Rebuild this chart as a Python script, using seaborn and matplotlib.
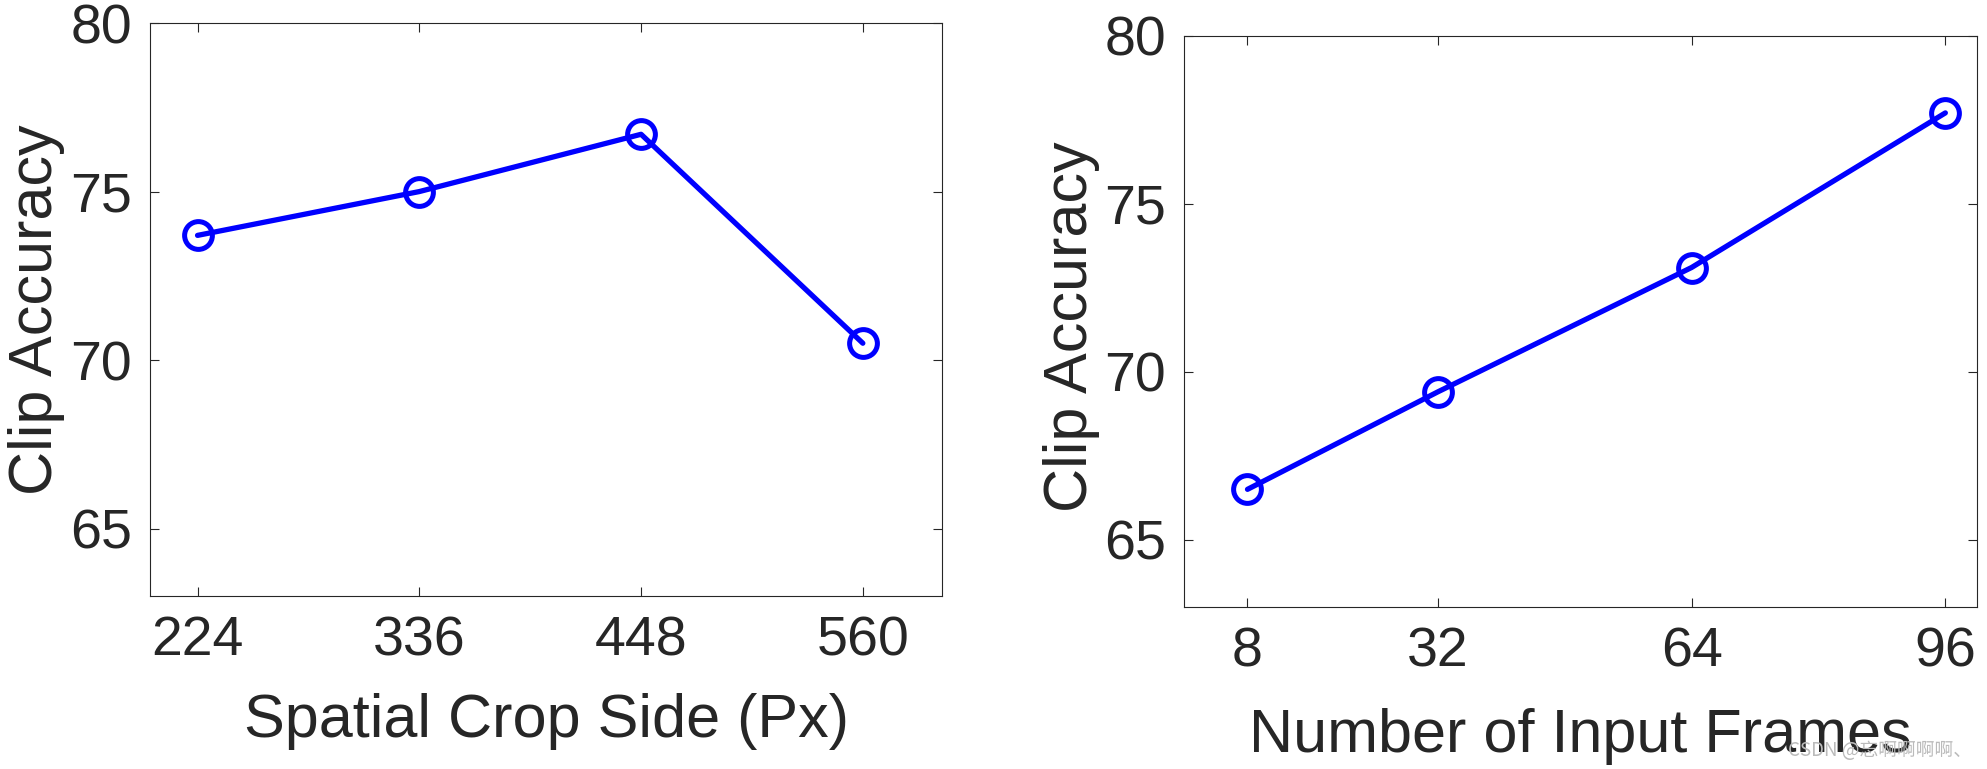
import matplotlib
matplotlib.use('Agg')
import matplotlib.pyplot as plt
import seaborn as sns
import pandas as pd

# values
crop_side = [224, 336, 448, 560]
crop_acc = [73.7, 75.0, 76.7, 70.5]

num_frames = [8, 32, 64, 96]
frames_acc = [66.5, 69.4, 73.1, 77.7]

sns.set_theme(style='white')
plt.rcParams['font.family'] = ['Liberation Sans', 'DejaVu Sans']

TXT = '#262626'

fig = plt.figure(figsize=(19.87, 7.69), dpi=100)
ax1 = fig.add_axes([0.0755, 0.225, 0.3986, 0.745])
ax2 = fig.add_axes([0.5959, 0.2107, 0.3991, 0.743])

df1 = pd.DataFrame({'x': crop_side, 'acc': crop_acc})
df2 = pd.DataFrame({'x': num_frames, 'acc': frames_acc})

line_kw = dict(color='blue', linewidth=3.8, marker='o', markersize=20,
               markerfacecolor='none', markeredgecolor='blue', markeredgewidth=3.6)

sns.lineplot(data=df1, x='x', y='acc', ax=ax1, **line_kw)
sns.lineplot(data=df2, x='x', y='acc', ax=ax2, **line_kw)

ax1.set_xlim(200, 600)
ax1.set_xticks(crop_side)
ax2.set_xlim(0, 100)
ax2.set_xticks(num_frames)

ax1.set_xlabel('Spatial Crop Side (Px)')
ax2.set_xlabel('Number of Input Frames')

for ax in (ax1, ax2):
    ax.set_ylim(63, 80)
    ax.set_yticks([65, 70, 75, 80])
    ax.set_ylabel('Clip Accuracy')
    ax.xaxis.label.set_fontsize(44)
    ax.yaxis.label.set_fontsize(44)
    ax.xaxis.label.set_color(TXT)
    ax.yaxis.label.set_color(TXT)
    ax.tick_params(axis='both', which='major', direction='in', length=6.5, width=0.8,
                   color=TXT, labelsize=40, labelcolor=TXT,
                   top=True, right=True, bottom=True, left=True)
    ax.tick_params(axis='x', pad=14)
    ax.tick_params(axis='y', pad=13)
    for s in ax.spines.values():
        s.set_visible(True)
        s.set_color(TXT)
        s.set_linewidth(0.8)
    ax.grid(False)

ax1.yaxis.set_label_coords(-0.107, 0.5)
ax2.yaxis.set_label_coords(-0.106, 0.49)
ax1.xaxis.set_label_coords(0.5, -0.17)
ax2.xaxis.set_label_coords(0.5, -0.177)

fig.text(0.9, 0.0247, 'CSDN @忘啊啊啊啊、', color='#bbbbbb', fontsize=13.5,
         va='center', ha='left', family=['Noto Sans CJK SC', 'DejaVu Sans'])

fig.savefig('out.png', dpi=100)
